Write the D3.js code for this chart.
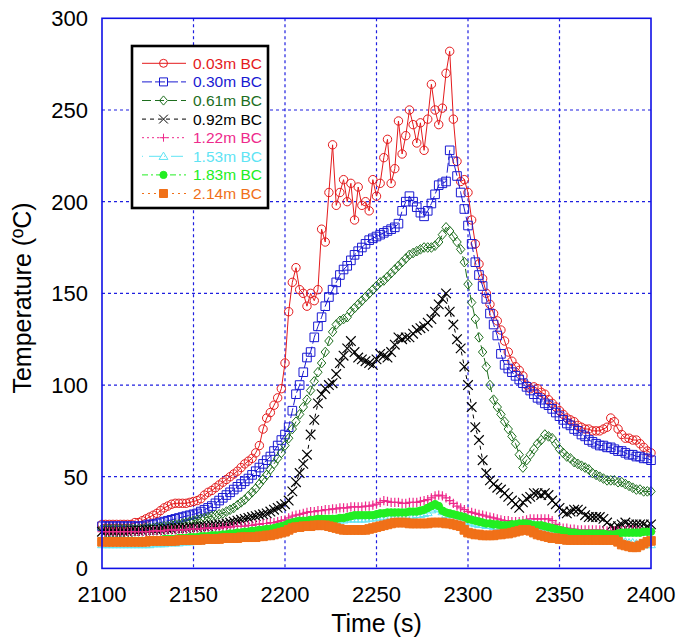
<!DOCTYPE html>
<html>
<head>
<meta charset="utf-8">
<script src="https://cdn.jsdelivr.net/npm/d3@7"></script>
<style>
  html, body { margin: 0; padding: 0; background: #fff; }
  svg { display: block; }
  text { font-family: "Liberation Sans", Arial, sans-serif; }
</style>
</head>
<body>
<svg id="chart" width="679" height="642"></svg>
<script>
// ---- Data (sampled every 2 s from 2100 s to 2400 s) ----
const times = d3.range(2100, 2401, 2);
const xTicks = [2100, 2150, 2200, 2250, 2300, 2350, 2400];
const yTicks = [0, 50, 100, 150, 200, 250, 300];

const s003 = [24,24,24,24,24,24,24,24,24,25,
  25,26,27,28,29,30,31.5,33,34,35,
  35.5,35.5,35.5,35.5,36,36.5,37,38,40,41.5,
  42.5,44,45.5,47,48.5,50,51.5,53,55,57,
  58.5,60,63,67,76,82,85,89,93,98,
  112,140,156,164,152,150,143,150,146,152,
  185,178,205,231,198,205,212,200,210,190,
  208,198,200,195,212,203,210,224,234,210,
  218,244,226,236,250,242,232,243,228,245,
  264,250,242,251,270,282,245,222,211,212,
  205,190,177,166,158,150,144,139,135,130,
  124,118,113,110,108,105,100,98,99,98,
  96,95,92,90,88,86,84,82,81,80,
  78,77,76,76,75,75,75,76,77,82,
  80,76,73,71,71,70,70,68,66,64,
  63];
const s030 = [23,23,23,23,23,23,23,23,23,23,
  23,23,23.5,24,24,24.5,25,25.5,26,26.5,
  27,27.5,28,28.5,29,29.5,30,31,32,33,
  34,35.5,37,38.5,40,41.5,43,44.5,46,47.5,
  49,51,53,55,57,59,61,64,67,70,
  73,77,86,95,100,107,115,118,126,132,
  137,143,148,152,156,160,163,165,168,171,
  173,175,177,179,180,181,182,183,184,185,
  186,188,195,200,203,200,197,194,192,195,
  199,204,209,210,211,228,222,214,205,196,
  187,177,167,160,154,147,139,133,127,117,
  111,109,107,105,103,101,99,97,95,93,
  92,90,89,87,85,83,81,79,78,76,
  75,73,72,70,69,68,67,67,66,66,
  65,64,64,63,62,62,61,61,60,60,
  59];
const s061 = [21.5,21.5,21.5,21.5,21.5,21.5,21.5,21.5,21.5,21.5,
  21.5,21.5,22,22,22,22.5,22.5,23,23,23.5,
  24,24,24.5,25,25.5,26,26.5,27,27.5,28,
  28.5,29,29.5,30,31,32,33,34.5,36,37.5,
  39.5,41.5,43.5,46,48.5,51,54,57,60,63,
  67,71,76,80,84,88,92,97,102,107,
  112,118,124,129,133,135,136,137,140,142,
  144,146,148,150,152,154,156,157,159,161,
  163,165,167,169,171,172,173,174,175,175,
  175,176,178,182,186,184,181,178,174,167,
  155,145,136,126,118,110,100,92,88,84,
  80,76,72,68,62,55,59,62,65,68,
  70,73,72,71,68,65,63,61,60,58,
  57,56,55,54,52,51,50,49,48,48,
  48,47,47,46,45,44,43,43,42,42,
  42];
const s092 = [20,20,20,20,20,20,20,20,20.5,20.5,
  20.5,20.5,21,21,21,21,21,21.5,21.5,21.5,
  22,22,22,22,22.5,22.5,22.5,23,23,23,
  23.5,23.5,24,24,24.5,25,25.5,26,26.5,27,
  27.5,28,28.5,29,29.5,30,31,32,33,34,
  35,37,42,47,52,57,62,73,81,90,
  95,98,100,101,106,112,116,120,124,118,
  115,114,113,112,111,114,117,116,115,118,
  122,126,125,126,126,128,130,131,132,134,
  136,140,144,147,150,140,133,125,120,110,
  100,88,77,70,59,52,48,46,44,43,
  41,39,37,35,33,36,38,39,41,41,
  40,41,40,37,35,33,31,30,31,32,
  32,31,29,28,28,28,28,27,25,23,
  22,23,24,25,24,24,24,24,24,23,
  24];
const s122 = [20,20,20,20,20,20,20,20,20,20,
  20,20,20,20,20.5,20.5,20.5,20.5,21,21,
  21,21,21,21,21.5,21.5,21.5,21.5,22,22,
  22,22,22,22.5,22.5,22.5,23,23,23,23,
  23.5,23.5,24,24,24.5,24.5,25,25,25.5,26,
  26.5,27.5,28.5,29,29.5,30,30.5,31,31,31.5,
  31.5,32,32,32.5,32.5,33,33,33,33.5,33.5,
  33.5,33.5,34,34,34.5,35,36,37,36.5,36,
  36,36,35.5,35.5,36,36,36,36.5,37,37.5,
  38.5,39.5,40,39.5,38.5,37,35.5,34,33,32,
  31,30.5,30,29.5,29,28.5,28,27.5,27,26.5,
  26,26,25.5,25.5,25.5,26,26.5,27,27,27,
  27,27,27,26,24,22.5,22,22,21.5,21.5,
  21,21,21,21,21,21,21,20.5,20.5,20.5,
  20.5,20.5,20.5,21,21,21,20.5,20.5,20,20,
  20];
const s153 = [13,13,13,13,13,13,13,13,13,13,
  13,13,13,13,13.5,13.5,13.5,13.5,14,14,
  14,14,14.5,14.5,14.5,15,15,15,15.5,15.5,
  16,16,16.5,16.5,17,17,17.5,18,18,18.5,
  19,19,19.5,19.5,20,20,20.5,20.5,21,21.5,
  22,23,24,24.5,25,25,25,25.5,25.5,26,
  26,26,26,26,26,26.5,26.5,27,27,27,
  27,27,27,27.5,27.5,28,28,28.5,28.5,28.5,
  28.5,29,29,29,29,29,29.5,29.5,30,30.5,
  32,33,32.5,31,29.5,28.5,28,27.5,27,26,
  25.5,25,24.5,24,24,23.5,23.5,23,23,23,
  23,23,23,23,23.5,24,24.5,24.5,24,23.5,
  23,22.5,22,21.5,21,20.5,20,19.5,19,18.5,
  18,17.5,17.5,17,17,17,16.5,16.5,16.5,16,
  16,15.5,15,14.5,14,14,13.5,13.5,13,13,
  13];
const s183 = [15,15,15,15,15,15,15,15,15,15,
  15,15,15,15.5,15.5,15.5,15.5,16,16,16,
  16,16.5,16.5,16.5,17,17,17,17.5,17.5,17.5,
  18,18,18,18.5,18.5,19,19,19.5,19.5,20,
  20,20.5,20.5,21,21,21.5,21.5,22,22.5,23,
  23.5,24.5,25,25.5,26,26,26,26.5,26.5,27,
  27,27,27,27,27,27.5,27.5,28,28.5,29,
  29,29,29,29,29,29.5,30,30,30.5,30.5,
  30.5,30.5,30.5,30.5,31,31,31,31.5,32,33,
  34,35,34,31.5,30.5,30,29.5,29,28.5,28,
  27,26.5,26,25.5,25,24.5,24.5,24,24,23.5,
  23.5,23.5,24,24,24.5,24.5,24.5,24,23.5,23.5,
  23.5,23,22.5,22,21.5,21,20.5,20,19.5,19.5,
  19,19,19,19,19,19,19,19,18.5,18.5,
  18.5,19,19.5,19.5,19.5,19.5,19.5,19.5,20,20,
  20];
const s214 = [14.5,14.5,14.5,14.5,14.5,14.5,14.5,14.5,14.5,14.5,
  14.5,14.5,14.5,15,15,15,15,15,15,15,
  15,15.5,15.5,15.5,15.5,15.5,15.5,15.5,16,16,
  16,16,16,16.5,16.5,16.5,16.5,16.5,17,17,
  17,17,17,17.5,17.5,18,18,18.5,19,19.5,
  20,21,22,22.5,22.5,23,23,23,23.5,23.5,
  23.5,23.5,23,22.5,22,21.5,21,21,21,21,
  21,21,21,21.5,22,22.5,23,23.5,24,24.5,
  25,25,25,25,24.5,24.5,24.5,24.5,24.5,24.5,
  25,25,25,25,24.5,24.5,24,23.5,23,21,
  19.5,19,18.5,18.5,18,18,18,18,18.5,18.5,
  19,19,19.5,20,20.5,21,21,20.5,19.5,18.5,
  18,17.5,17,16.5,16.5,16,16,15.5,15.5,15.5,
  15.5,15.5,15.5,15.5,15.5,15.5,15.5,15.5,15.5,15.5,
  15.5,14.5,13,12.5,12,11.5,11.5,12.5,13.5,14.5,
  15];

const labels = ["0.03m BC","0.30m BC","0.61m BC","0.92m BC","1.22m BC","1.53m BC","1.83m BC","2.14m BC"];
const values = [s003, s030, s061, s092, s122, s153, s183, s214];

// ---- Styles ----
const styles = [
  {color:"#e41a1c", marker:"circle",   fill:false, dash:null,        size:4.2, lsize:4},
  {color:"#1a1ad2", marker:"square",   fill:false, dash:"10,3",      size:4.3, lsize:4},
  {color:"#1e6e1e", marker:"diamond",  fill:false, dash:"9,4",       size:4.2, lsize:4},
  {color:"#000000", marker:"times",    fill:false, dash:"4,4",       size:4.8, lsize:4.4},
  {color:"#ee2a8c", marker:"plus",     fill:false, dash:"2,3",       size:4.6, lsize:4},
  {color:"#5fe4f4", marker:"triangle", fill:false, dash:"1,6,12,3",  size:4.2, lsize:4.2},
  {color:"#22ee22", marker:"dot",      fill:true,  dash:"6,3,2,3",   size:3.8, lsize:3.6},
  {color:"#f07018", marker:"sq",       fill:true,  dash:"2,4",       size:4.3, lsize:4}
];

function markerPath(type, s) {
  switch (type) {
    case "circle": case "dot": return d3.symbol(d3.symbolCircle, Math.PI*s*s)();
    case "square": case "sq": return d3.symbol(d3.symbolSquare, (2*s)*(2*s))();
    case "diamond": return `M0,${-s*1.15}L${s},0L0,${s*1.15}L${-s},0Z`;
    case "triangle": return `M0,${-s}L${s*1.05},${s*0.75}L${-s*1.05},${s*0.75}Z`;
    case "times": return `M${-s},${-s}L${s},${s}M${-s},${s}L${s},${-s}`;
    case "plus": return `M${-s},0L${s},0M0,${-s}L0,${s}`;
  }
}

// ---- Layout ----
const svg = d3.select("#chart");
const M = {left: 102, right: 651, top: 18.3, bottom: 568.4};
const x = d3.scaleLinear().domain([2100, 2400]).range([M.left, M.right]);
const y = d3.scaleLinear().domain([0, 300]).range([M.bottom, M.top]);
const gridColor = "#1f1fe0";

// gridlines
const grid = svg.append("g");
grid.selectAll("line.vx").data(xTicks.slice(1, -1)).join("line")
  .attr("x1", d => x(d)).attr("x2", d => x(d))
  .attr("y1", M.top).attr("y2", M.bottom)
  .attr("stroke", gridColor).attr("stroke-width", 1.2).attr("stroke-dasharray", "3,3");
grid.selectAll("line.hy").data(yTicks.slice(1, -1)).join("line")
  .attr("y1", d => y(d)).attr("y2", d => y(d))
  .attr("x1", M.left).attr("x2", M.right)
  .attr("stroke", gridColor).attr("stroke-width", 1.2).attr("stroke-dasharray", "3,3");

// series
const plot = svg.append("g");
const lineGen = d3.line().x((d, i) => x(times[i])).y(d => y(d));
values.forEach((vals, k) => {
  const st = styles[k];
  const g = plot.append("g");
  g.append("path").attr("d", lineGen(vals))
    .attr("fill", "none").attr("stroke", st.color).attr("stroke-width", 1)
    .attr("stroke-dasharray", st.dash);
  const mp = markerPath(st.marker, st.size);
  g.selectAll("path.m").data(vals).join("path")
    .attr("class", "m")
    .attr("d", mp)
    .attr("transform", (d, i) => `translate(${x(times[i])},${y(d)})`)
    .attr("fill", st.fill ? st.color : "none")
    .attr("stroke", st.color).attr("stroke-width", st.marker === "times" || st.marker === "plus" ? 1.2 : 1);
});

// frame
svg.append("rect").attr("x", M.left).attr("y", M.top)
  .attr("width", M.right - M.left).attr("height", M.bottom - M.top)
  .attr("fill", "none").attr("stroke", "#1010e6").attr("stroke-width", 1.6);

// axis labels
svg.append("g").selectAll("text").data(xTicks).join("text")
  .attr("x", d => x(d)).attr("y", 602)
  .attr("text-anchor", "middle").attr("font-size", 22).attr("fill", "#000")
  .text(d => d);
svg.append("g").selectAll("text").data(yTicks).join("text")
  .attr("x", 88).attr("y", d => y(d) + 8)
  .attr("text-anchor", "end").attr("font-size", 22).attr("fill", "#000")
  .text(d => d);

svg.append("text").attr("x", (M.left + M.right) / 2).attr("y", 632)
  .attr("text-anchor", "middle").attr("font-size", 25).text("Time (s)");
svg.append("text").attr("transform", "translate(31,298) rotate(-90)")
  .attr("text-anchor", "middle").attr("font-size", 25).text("Temperature (ºC)");

// legend
const lg = svg.append("g");
lg.append("rect").attr("x", 132).attr("y", 46).attr("width", 136).attr("height", 162)
  .attr("fill", "#fff").attr("stroke", "#000").attr("stroke-width", 2.6);
labels.forEach((lab, k) => {
  const st = styles[k];
  const cy = 63.3 + k * 18.6;
  lg.append("line").attr("x1", 142).attr("x2", 186).attr("y1", cy).attr("y2", cy)
    .attr("stroke", st.color).attr("stroke-width", 1).attr("stroke-dasharray", st.dash);
  lg.append("path").attr("d", markerPath(st.marker, st.lsize))
    .attr("transform", `translate(163.5,${cy})`)
    .attr("fill", st.fill ? st.color : "none").attr("stroke", st.color).attr("stroke-width", 1);
  lg.append("text").attr("x", 193).attr("y", cy + 5.5).attr("font-size", 15.5)
    .attr("fill", st.color === "#000000" ? "#000" : st.color).text(lab);
});
</script>
</body>
</html>
